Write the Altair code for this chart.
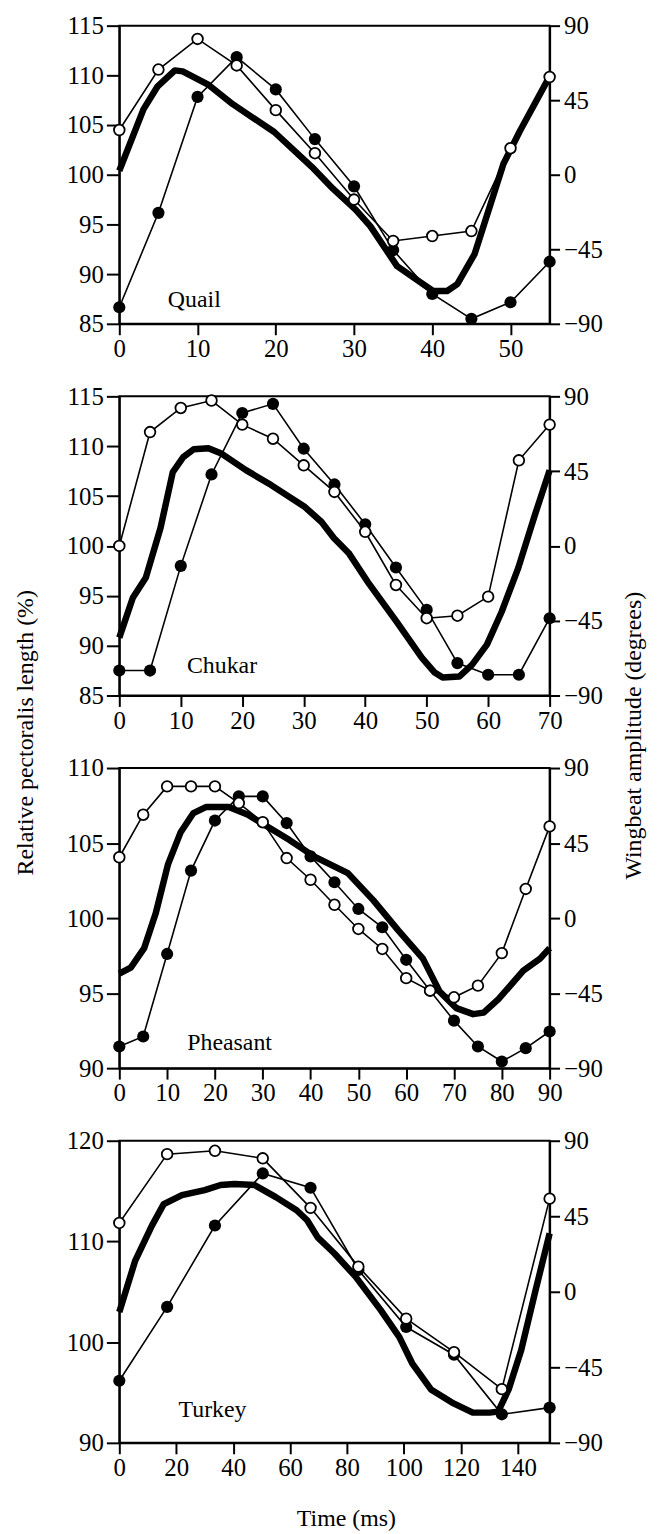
import altair as alt
import pandas as pd

FONT = "Liberation Serif"
FS = 24      # titles and species labels
FS_TICK = 25 # tick labels

# ---------------- Quail ----------------
quail_t = [0, 5, 10, 15, 20, 25, 30, 35, 40, 45, 50, 55]
quail_open = [27, 63.5, 82, 66, 39, 13, -15, -40, -37, -34, 16, 59]
quail_filled = [-80, -23, 47, 71, 51.5, 21.5, -7, -45.5, -72, -87, -77, -52.5]
quail_len_t = [0, 3.1, 4.9, 7.1, 8.1, 11.3, 14.5, 19.8, 24.6, 27.3, 30.2, 32.1, 35.5,
               37.9, 40.1, 41.9, 43.2, 45.4, 49.1, 51.2, 55]
quail_len = [100.4, 106.6, 108.9, 110.5, 110.4, 109.1, 107.1, 104.3, 100.8, 98.6, 96.5,
             94.8, 90.8, 89.5, 88.3, 88.3, 89.0, 92.0, 101.1, 104.4, 109.9]

# ---------------- Chukar ----------------
chukar_t = [0, 5, 10, 15, 20, 25, 30, 35, 40, 45, 50, 55, 60, 65, 70]
chukar_open = [0, 68.5, 83, 87.5, 73, 64.5, 48.5, 32.5, 8.5, -23.5, -43.5, -42, -30.5, 51.5, 73]
chukar_filled = [-75, -75, -12, 43, 80, 85.5, 58.5, 37, 13, -13, -38.5, -70.5, -77.5, -77.5, -43.5]
chukar_len_t = [0, 2.2, 4.3, 6.7, 8.7, 10.4, 12.1, 14.5, 16.5, 20.6, 24.7, 30.2, 32.9, 34.9,
                37.3, 40.4, 45.1, 49.2, 51.3, 52.6, 55.3, 57.4, 59.8, 62.2, 64.9, 67.6, 70]
chukar_len = [90.8, 94.8, 96.8, 101.8, 107.4, 108.9, 109.7, 109.8, 109.3, 107.6, 106.1, 103.9,
              102.4, 100.8, 99.3, 96.4, 92.4, 88.8, 87.3, 86.8, 86.9, 88.1, 90.1, 93.4, 97.8,
              103.1, 107.6]

# ---------------- Pheasant ----------------
pheasant_t = [0, 5, 10, 15, 20, 25, 30, 35, 40, 45, 50, 55, 60, 65, 70, 75, 80, 85, 90]
pheasant_open = [36.5, 62, 79, 79, 79, 69, 57.5, 36, 23, 8, -6.5, -18.5, -36, -43.5, -47.5,
                 -40.5, -21, 17.5, 55]
pheasant_filled = [-77, -71, -21.5, 28.5, 58.5, 73, 73, 57, 37, 21.5, 5.5, -5.5, -25, -43.5,
                   -61.5, -77, -86, -78, -68]
pheasant_len_t = [0, 2.4, 5.2, 7.6, 10.2, 12.8, 15.5, 18.1, 22.9, 26.8, 35.6, 40.8, 47.8, 53.1,
                  58.3, 63.5, 67.0, 70.5, 74.0, 76.2, 79.3, 84.5, 88.0, 90]
pheasant_len = [96.3, 96.7, 98.0, 100.3, 103.6, 105.7, 107.0, 107.4, 107.4, 106.9, 105.2, 104.1,
                103.0, 101.2, 99.2, 97.3, 95.1, 94.0, 93.6, 93.7, 94.6, 96.5, 97.3, 98.0]

# ---------------- Turkey ----------------
turkey_t = [0, 16.8, 33.6, 50.4, 67.2, 84, 100.8, 117.6, 134.4, 151.2]
turkey_open = [41, 82, 84, 79.5, 50, 15, -16, -36, -58, 55.5]
turkey_filled = [-53, -9, 39.5, 70.5, 62, 13, -21, -37.5, -73, -69]
turkey_len_t = [0, 5.6, 11.5, 15.6, 22, 30, 35.6, 40.5, 47.5, 55, 62.3, 66, 69.7, 75.6, 83,
                91.8, 98.4, 102.9, 109.5, 116.9, 124.2, 130.1, 133.1, 136.8, 141.2, 146.3, 151.2]
turkey_len = [103.0, 108.1, 111.6, 113.7, 114.6, 115.1, 115.6, 115.7, 115.6, 114.4, 113.1, 112.1,
              110.4, 108.8, 106.5, 103.2, 100.5, 97.9, 95.3, 94.0, 93.0, 93.0, 93.1, 95.3, 99.2,
              105.2, 110.8]

species = ["Quail", "Chukar", "Pheasant", "Turkey"]
label_t = [6.2, 11, 14.2, 20.8]
label_v = [87.4, 88.0, 91.7, 93.3]


def panel(name, t, opn, fil, lt, lv, xmax, xticks, ydom, yticks, lab_t, lab_v, height,
          left_title=None, right_title=None, x_title=None):
    W = 433
    xaxis_kwargs = dict(values=xticks, tickSize=11, labelPadding=2, title=None, format="d",
                        labelFlush=False)
    if x_title:
        xaxis_kwargs.update(title=x_title, titleX=228, titleY=76, titleAlign="center",
                            titleBaseline="middle", titleFont=FONT, titleFontSize=FS,
                            titleFontWeight="normal")
    X = alt.X("t:Q", scale=alt.Scale(domain=[0, xmax], nice=False, zero=False),
              axis=alt.Axis(**xaxis_kwargs))

    laxis = dict(values=yticks, tickSize=13, labelPadding=3, title=None, orient="left")
    if left_title:
        laxis.update(title=left_title, titleX=-94, titleY=338, titleAngle=270,
                     titleAlign="center", titleBaseline="middle", titleFont=FONT,
                     titleFontSize=FS, titleFontWeight="normal")
    YL = alt.Y("v:Q", scale=alt.Scale(domain=ydom, nice=False, zero=False),
               axis=alt.Axis(**laxis))

    raxis = dict(values=[-90, -45, 0, 45, 90], tickSize=10, labelPadding=4, title=None,
                 orient="right")
    if right_title:
        raxis.update(title=right_title, titleX=84, titleY=341, titleAngle=270,
                     titleAlign="center", titleBaseline="middle", titleFont=FONT,
                     titleFontSize=FS, titleFontWeight="normal")
    rscale = alt.Scale(domain=[-90, 90], nice=False, zero=False)

    df_len = pd.DataFrame({"t": lt, "v": lv})
    df_pts = pd.DataFrame({"t": t, "filled": fil, "open": opn})
    df_lab = pd.DataFrame({"t": [lab_t], "v": [lab_v], "name": [name]})

    thick = alt.Chart(df_len).mark_line(color="black", strokeWidth=6.5, strokeJoin="round",
                                        strokeCap="butt").encode(x=X, y=YL, order="t:Q")
    txt = alt.Chart(df_lab).mark_text(align="left", baseline="middle", font=FONT,
                                      fontSize=FS, color="black").encode(
        x=X, y=YL, text="name:N")
    left = alt.layer(thick, txt)

    fl = alt.Chart(df_pts).mark_line(color="black", strokeWidth=1.6).encode(
        x=X, y=alt.Y("filled:Q", scale=rscale, axis=alt.Axis(**raxis)))
    fp = alt.Chart(df_pts).mark_point(shape="circle", filled=True, color="black", size=150,
                                      opacity=1).encode(
        x=X, y=alt.Y("filled:Q", scale=rscale, axis=alt.Axis(**raxis)))
    ol = alt.Chart(df_pts).mark_line(color="black", strokeWidth=1.6).encode(
        x=X, y=alt.Y("open:Q", scale=rscale, axis=alt.Axis(**raxis)))
    op = alt.Chart(df_pts).mark_point(shape="circle", filled=True, fill="white",
                                      stroke="black", strokeWidth=1.8, size=115,
                                      opacity=1).encode(
        x=X, y=alt.Y("open:Q", scale=rscale, axis=alt.Axis(**raxis)))
    right = alt.layer(fl, fp, ol, op)

    return alt.layer(left, right).resolve_scale(y="independent").properties(
        width=W, height=height)


p1 = panel(species[0], quail_t, quail_open, quail_filled, quail_len_t, quail_len, 55,
           [0, 10, 20, 30, 40, 50], [85, 115], [85, 90, 95, 100, 105, 110, 115],
           label_t[0], label_v[0], 300)
p2 = panel(species[1], chukar_t, chukar_open, chukar_filled, chukar_len_t, chukar_len, 70,
           [0, 10, 20, 30, 40, 50, 60, 70], [85, 115], [85, 90, 95, 100, 105, 110, 115],
           label_t[1], label_v[1], 301,
           left_title="Relative pectoralis length (%)",
           right_title="Wingbeat amplitude (degrees)")
p3 = panel(species[2], pheasant_t, pheasant_open, pheasant_filled, pheasant_len_t, pheasant_len,
           90, [0, 10, 20, 30, 40, 50, 60, 70, 80, 90], [90, 110], [90, 95, 100, 105, 110],
           label_t[2], label_v[2], 302)
p4 = panel(species[3], turkey_t, turkey_open, turkey_filled, turkey_len_t, turkey_len, 151.2,
           [0, 20, 40, 60, 80, 100, 120, 140], [90, 120], [90, 100, 110, 120],
           label_t[3], label_v[3], 304, x_title="Time (ms)")

chart = alt.vconcat(p1, p2, p3, p4, spacing=73, bounds="flush").properties(
    padding={"left": 5, "top": 0, "right": 5, "bottom": 5}
).configure_view(stroke="black", strokeWidth=2).configure_axis(
    domainWidth=2, tickWidth=2, domainColor="black", tickColor="black",
    labelColor="black", titleColor="black", labelFont=FONT, labelFontSize=FS_TICK, grid=False
)

chart.save("out.html", embed_options={"renderer": "svg", "actions": False})
